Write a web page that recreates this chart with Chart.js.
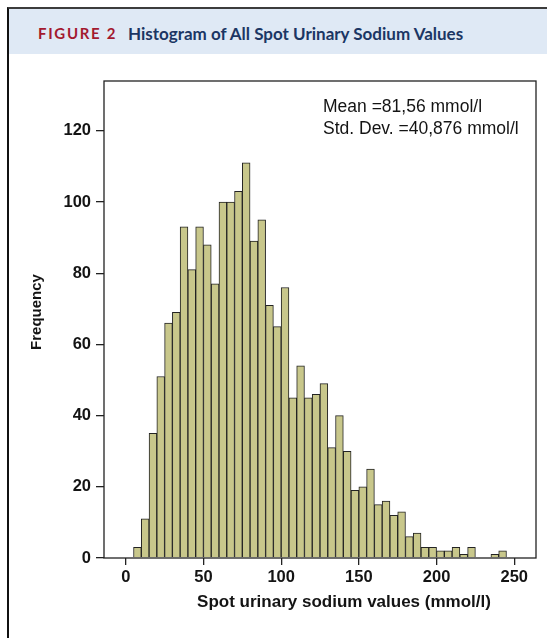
<!DOCTYPE html>
<html>
<head>
<meta charset="utf-8">
<title>Figure 2</title>
<script src="https://cdn.jsdelivr.net/npm/chart.js@4.4.1/dist/chart.umd.min.js"></script>
<style>
  html, body { margin: 0; padding: 0; background: #fff; }
  body { width: 547px; height: 638px; position: relative; overflow: hidden; }
  #frame {
    position: absolute; left: 7px; top: 7px; right: 0; bottom: 0;
    border-left: 2px solid #111; border-top: 2px solid #3c3c3c;
  }
  #band {
    position: absolute; left: 9px; top: 9px; right: 0; height: 45px;
    background: #dfe9f5;
  }
  #fig {
    position: absolute; left: 38px; top: 24px;
    font: bold 15px Lato, "Open Sans", sans-serif; letter-spacing: 1.7px;
    color: #a3192f;
  }
  #ttl {
    position: absolute; left: 128px; top: 23px;
    font: bold 17px Lato, "Open Sans", sans-serif;
    color: #1b3664;
  }
  #chart { position: absolute; left: 0; top: 0; }
</style>
</head>
<body>
<div id="frame"></div>
<div id="band"></div>
<div id="fig">FIGURE 2</div>
<div id="ttl">Histogram of All Spot Urinary Sodium Values</div>
<canvas id="chart" width="547" height="638"></canvas>

<script>
// --- DATA ---
// start of each 5 mmol/l bin
const binStarts = [5, 10, 15, 20, 25, 30, 35, 40, 45, 50, 55, 60, 65, 70, 75, 80,
                   85, 90, 95, 100, 105, 110, 115, 120, 125, 130, 135, 140, 145, 150,
                   155, 160, 165, 170, 175, 180, 185, 190, 195, 200, 205, 210, 215,
                   220, 225, 230, 235, 240];
const counts = [3, 11, 35, 51, 66, 69, 93, 81, 93, 88, 77, 100, 100, 103, 111, 89,
                95, 71, 65, 76, 45, 54, 45, 46, 49, 31, 40, 30, 19, 20,
                25, 15, 16, 12, 13, 6, 7, 3, 3, 2, 2, 3, 1,
                3, 0, 0, 1, 2];
const binWidth = 5;
const xTicks = [0, 50, 100, 150, 200, 250];
const yTicks = [0, 20, 40, 60, 80, 100, 120];
const statLines = ["Mean =81,56 mmol/l", "Std. Dev. =40,876 mmol/l"];
const xTitle = "Spot urinary sodium values (mmol/l)";
const yTitle = "Frequency";

const FONT = "'Liberation Sans', Arial, Helvetica, sans-serif";
const INK = "#141414";

// frame round the plot area + stats text + axis titles
const extras = {
    id: "extras",
    afterDraw(chart) {
        const { ctx, chartArea: a } = chart;
        ctx.save();
        ctx.strokeStyle = "#222";
        ctx.lineWidth = 1.3;
        ctx.strokeRect(a.left, a.top, a.right - a.left, a.bottom - a.top);

        ctx.fillStyle = INK;
        ctx.font = "17.5px " + FONT;
        ctx.textBaseline = "alphabetic";
        ctx.textAlign = "left";
        ctx.fillText(statLines[0], 323, 112);
        ctx.fillText(statLines[1], 323, 134);

        ctx.font = "bold 17px " + FONT;
        ctx.textAlign = "center";
        ctx.fillText(xTitle, 344, 607);

        ctx.translate(41, 312);
        ctx.rotate(-Math.PI / 2);
        ctx.font = "bold 15px " + FONT;
        ctx.fillText(yTitle, 0, 0);
        ctx.restore();
    }
};

const ctx = document.getElementById("chart").getContext("2d");
new Chart(ctx, {
    type: "bar",
    data: {
        datasets: [{
            data: binStarts.map((b, i) => ({ x: b + binWidth / 2, y: counts[i] })),
            backgroundColor: "#c8c78b",
            borderColor: "#232323",
            borderWidth: 1,
            barPercentage: 1,
            categoryPercentage: 1
        }]
    },
    options: {
        responsive: false,
        animation: false,
        layout: { padding: { left: 0, right: 11, top: 81, bottom: 0 } },
        scales: {
            x: {
                type: "linear",
                min: -14,
                max: 264,
                offset: false,
                afterBuildTicks: s => { s.ticks = xTicks.map(v => ({ value: v })); },
                afterFit: s => { s.height = 80; },
                border: { display: false },
                grid: { offset: false, drawOnChartArea: false, drawTicks: true, tickLength: 7, color: "#222", lineWidth: 1.3 },
                ticks: { color: INK, padding: 3, maxRotation: 0, font: { family: FONT, size: 16.5, weight: "bold" } }
            },
            y: {
                min: 0,
                max: 134,
                afterBuildTicks: s => { s.ticks = yTicks.map(v => ({ value: v })); },
                afterFit: s => { s.width = 104; },
                border: { display: false },
                grid: { drawOnChartArea: false, drawTicks: true, tickLength: 8, color: "#222", lineWidth: 1.3 },
                ticks: { color: INK, padding: 5, font: { family: FONT, size: 16.5, weight: "bold" } }
            }
        },
        plugins: {
            legend: { display: false },
            tooltip: { enabled: false }
        }
    },
    plugins: [extras]
});
</script>
</body>
</html>
